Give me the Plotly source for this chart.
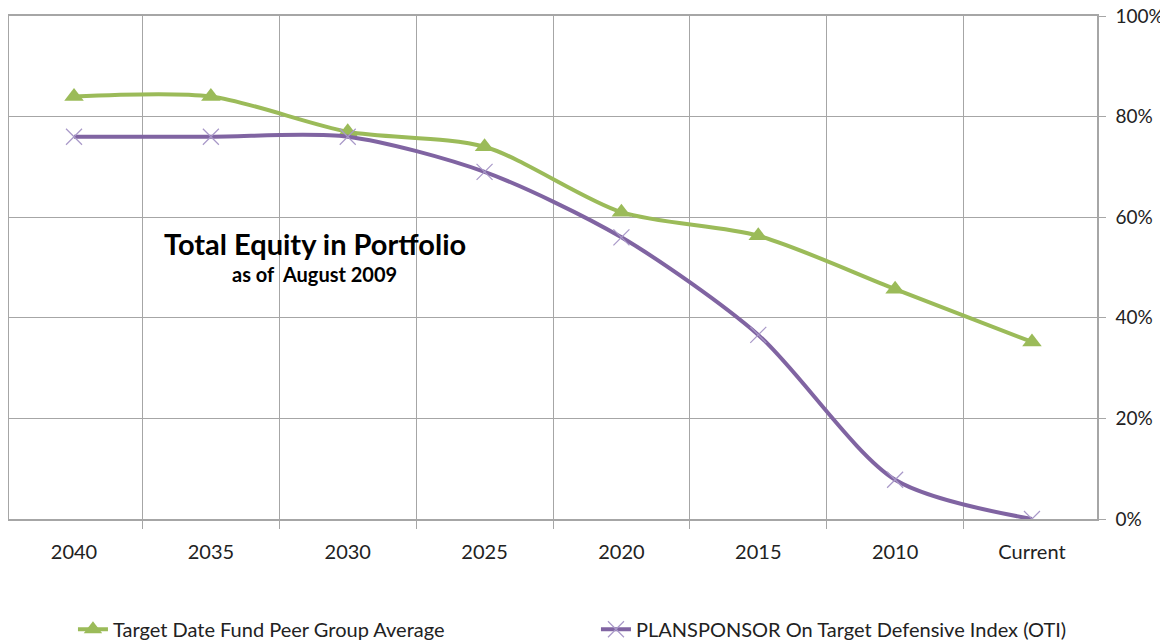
import plotly.graph_objects as go

categories = ["2040", "2035", "2030", "2025", "2020", "2015", "2010", "Current"]
peer_avg = [0.84, 0.84, 0.77, 0.74, 0.61, 0.563, 0.457, 0.352]
oti = [0.76, 0.76, 0.76, 0.69, 0.56, 0.366, 0.078, 0.0]

FONT = "Lato"
GREEN = "#9BBB59"
PURPLE = "#8064A2"

# page body has an 8px default margin, so the figure is 8px smaller than the window
W, H = 1160, 632

fig = go.Figure()
fig.add_trace(go.Scatter(
    x=categories, y=peer_avg, name="Target Date Fund Peer Group Average",
    mode="lines+markers",
    line=dict(color=GREEN, width=4, shape="spline", smoothing=0.8),
    marker=dict(symbol="triangle-up", size=17, color=GREEN),
))
fig.add_trace(go.Scatter(
    x=categories, y=oti, name="PLANSPONSOR On Target Defensive Index (OTI)",
    mode="lines+markers",
    line=dict(color=PURPLE, width=4, shape="spline", smoothing=0.8),
    marker=dict(symbol="x-thin-open", size=16, color="#A898C8",
                line=dict(color="#A898C8", width=1.2)),
))

fig.add_annotation(x=0.281, y=0.547, xref="paper", yref="paper",
                   xanchor="center", yanchor="middle",
                   text="<b>Total Equity in Portfolio</b>", showarrow=False,
                   font=dict(family=FONT, size=29, color="#000000"))
fig.add_annotation(x=0.281, y=0.487, xref="paper", yref="paper",
                   xanchor="center", yanchor="middle",
                   text="<b>as of  August 2009</b>", showarrow=False,
                   font=dict(family=FONT, size=20, color="#000000"))

fig.update_layout(
    width=W, height=H,
    margin=dict(l=1, r=71, t=8, b=121, autoexpand=False),
    paper_bgcolor="white", plot_bgcolor="white",
    font=dict(family=FONT, size=20, color="#222222"),
    showlegend=True,
    legend=dict(orientation="h", xref="container", yref="container",
                x=0.056, xanchor="left", y=0.017, yanchor="middle",
                entrywidth=478, entrywidthmode="pixels",
                font=dict(family=FONT, size=20, color="#222222"),
                itemsizing="trace"),
    xaxis=dict(
        type="category", tickson="boundaries", automargin=False,
        showgrid=True, gridcolor="#A6A6A6", gridwidth=1,
        showline=True, linecolor="#A6A6A6", linewidth=1.5, mirror=True,
        ticks="outside", ticklen=8, tickcolor="#A6A6A6",
        ticklabelstandoff=14,
        tickfont=dict(family=FONT, size=20, color="#222222"),
        fixedrange=True,
    ),
    yaxis=dict(
        side="right", range=[0, 1], dtick=0.2, tickformat=".0%", automargin=False,
        showgrid=True, gridcolor="#A6A6A6", gridwidth=1,
        showline=True, linecolor="#A6A6A6", linewidth=1.5, mirror=True,
        ticks="outside", ticklen=7, tickcolor="#A6A6A6",
        ticklabelstandoff=6, ticklabeloverflow="allow",
        tickfont=dict(family=FONT, size=19, color="#222222"),
        zeroline=False,
    ),
)

fig.write_html("out.html")
